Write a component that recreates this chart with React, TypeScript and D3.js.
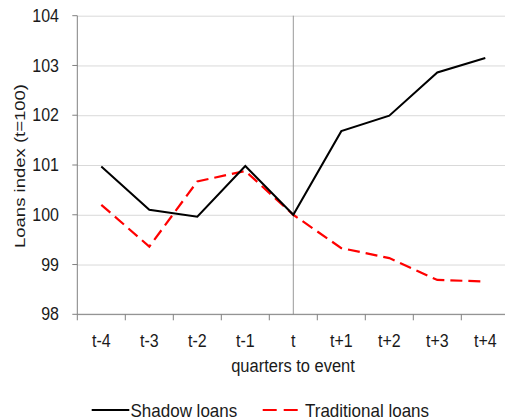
import { useEffect, useRef } from 'react'
import * as d3 from 'd3'

const quarters = ['t-4', 't-3', 't-2', 't-1', 't', 't+1', 't+2', 't+3', 't+4']
const shadowLoans = [100.97, 100.1, 99.96, 100.98, 100.0, 101.68, 101.99, 102.86, 103.15]
const traditionalLoans = [100.2, 99.36, 100.67, 100.88, 100.0, 99.33, 99.13, 98.69, 98.66]
const yTicks = [98, 99, 100, 101, 102, 103, 104]

const WIDTH = 505
const HEIGHT = 418
const FONT = '"Liberation Sans", Arial, sans-serif'
const STRETCH = 1.1 // the reference text is a bit taller than it is wide

export default function App() {
  const svgRef = useRef<SVGSVGElement>(null)

  useEffect(() => {
    if (!svgRef.current) return
    const svg = d3.select(svgRef.current)
    svg.selectAll('*').remove()

    const margin = { top: 15.7, left: 77.3 }
    const bandW = 48
    const plotW = bandW * quarters.length
    const plotH = 298.6

    // text helper, stretched vertically like the source
    const label = (
      parent: d3.Selection<any, unknown, null, undefined>,
      x: number,
      y: number,
      txt: string,
      anchor = 'middle',
      size = 16
    ) =>
      parent
        .append('text')
        .attr('transform', `translate(${x},${y}) scale(1,${STRETCH})`)
        .attr('text-anchor', anchor)
        .attr('font-size', size)
        .attr('font-family', FONT)
        .attr('fill', '#1a1a1a')
        .text(txt)

    const g = svg.append('g').attr('transform', `translate(${margin.left},${margin.top})`)

    const x = d3.scaleBand<string>().domain(quarters).range([0, plotW])
    const y = d3.scaleLinear().domain([98, 104]).range([plotH, 0])
    const cx = (q: string) => (x(q) as number) + x.bandwidth() / 2

    // gridlines
    g.append('g')
      .call(d3.axisLeft(y).tickValues(yTicks).tickSize(-plotW).tickFormat(() => ''))
      .call(s => s.select('.domain').remove())
      .call(s => s.selectAll('.tick line').attr('stroke', '#d9d9d9').attr('stroke-width', 1))

    // event line at t
    g.append('line')
      .attr('x1', cx('t'))
      .attr('x2', cx('t'))
      .attr('y1', 0)
      .attr('y2', plotH)
      .attr('stroke', '#999999')
      .attr('stroke-width', 1)

    // y axis
    g.append('line')
      .attr('x1', 0).attr('x2', 0).attr('y1', 0).attr('y2', plotH)
      .attr('stroke', '#808080')
    yTicks.forEach(t => {
      g.append('line')
        .attr('x1', -5).attr('x2', 0).attr('y1', y(t)).attr('y2', y(t))
        .attr('stroke', '#808080')
      label(g, -18.3, y(t) + 6.1, `${t}`, 'end')
    })

    // x axis: ticks at band edges, labels at centers
    const xAxis = g.append('g').attr('transform', `translate(0,${plotH})`)
    xAxis.append('line')
      .attr('x1', 0)
      .attr('x2', plotW)
      .attr('stroke', '#808080')
    xAxis.selectAll('line.tk')
      .data(quarters)
      .join('line')
      .attr('class', 'tk')
      .attr('x1', d => x(d) as number)
      .attr('x2', d => x(d) as number)
      .attr('y1', 0)
      .attr('y2', 6)
      .attr('stroke', '#808080')
    quarters.forEach(q => label(xAxis, cx(q), 32.4, q))

    const line = d3
      .line<number>()
      .x((_, i) => cx(quarters[i]))
      .y(d => y(d))

    g.append('path')
      .datum(traditionalLoans)
      .attr('fill', 'none')
      .attr('stroke', '#ff0000')
      .attr('stroke-width', 2.2)
      .attr('stroke-dasharray', '12,6')
      .attr('d', line)

    g.append('path')
      .datum(shadowLoans)
      .attr('fill', 'none')
      .attr('stroke', '#000000')
      .attr('stroke-width', 2)
      .attr('d', line)

    // axis titles
    label(svg as any, 293, 372, 'quarters to event', 'middle', 16.5)

    svg.append('text')
      .attr('transform', 'translate(24.5,166) rotate(-90)')
      .attr('text-anchor', 'middle')
      .attr('font-size', 15.5)
      .attr('font-family', FONT)
      .attr('fill', '#1a1a1a')
      .attr('textLength', 164)
      .attr('lengthAdjust', 'spacingAndGlyphs')
      .text('Loans index (t=100)')

    // legend (clipped at the bottom edge, as in the source)
    const legend = svg.append('g').attr('transform', 'translate(0,410)')
    legend.append('line')
      .attr('x1', 91.7).attr('x2', 129.3).attr('y1', 0).attr('y2', 0)
      .attr('stroke', '#000').attr('stroke-width', 2)
    label(legend, 130.5, 6.5, 'Shadow loans', 'start', 17)
    legend.append('line')
      .attr('x1', 262.7).attr('x2', 298.3).attr('y1', 0).attr('y2', 0)
      .attr('stroke', '#ff0000').attr('stroke-width', 2.2)
      .attr('stroke-dasharray', '14,7')
    label(legend, 305, 6.5, 'Traditional loans', 'start', 17)
  }, [])

  return (
    <svg
      ref={svgRef}
      width={WIDTH}
      height={HEIGHT}
      style={{ position: 'absolute', left: 0, top: 0, background: '#fff' }}
    />
  )
}
